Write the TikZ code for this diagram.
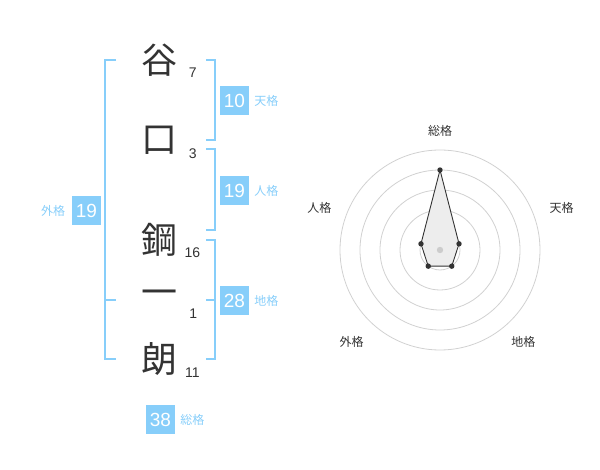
\documentclass[tikz,border=0pt]{standalone}
\usepackage{fontspec}
\setmainfont{Liberation Sans}
\newfontfamily\jp{Noto Sans CJK JP}
\usepackage{tikz}
\usetikzlibrary{positioning}
\definecolor{kaku}{RGB}{135,206,250}
\definecolor{ink}{RGB}{51,51,51}

\begin{document}
\begin{tikzpicture}[x=1pt,y=-1pt,node distance=5pt,
                    kanji node/.style={inner sep=0pt,text=ink,font=\jp\fontsize{36}{36}\selectfont},
                    stroke node/.style={inner sep=0pt,text=ink,font=\fontsize{14}{14}\selectfont},
                    score node/.style={fill=kaku,text=white,minimum size=29pt,inner sep=0pt,font=\fontsize{19}{19}\selectfont},
                    tag node/.style={inner sep=0pt,text=kaku,font=\jp\fontsize{12}{12}\selectfont},
                    axis node/.style={inner sep=0pt,text=ink,font=\jp\fontsize{12}{12}\selectfont},
                    bracket/.style={draw=kaku,line width=2pt},
                    ring/.style={draw=black!18,line width=0.8pt}]

  \useasboundingbox (0,0) rectangle (600,470);

  % name and strokes
  \node[kanji node] (1) at (159,60) {谷};
  \node[kanji node] (2) at (159,140) {口};
  \node[kanji node] (3) at (159,240) {鋼};
  \node[kanji node] (4) at (159,298) {一};
  \node[kanji node] (5) at (159,359) {朗};
  \node[stroke node] (n1) at (192.7,72.7) {7};
  \node[stroke node] (n2) at (192.7,153.3) {3};
  \node[stroke node] (n3) at (192.3,252.3) {16};
  \node[stroke node] (n4) at (193.3,313.3) {1};
  \node[stroke node] (n5) at (192.3,372.7) {11};

  % brackets
  \draw[bracket] (116,60) -- (105,60) -- (105,359) -- (116,359);
  \draw[bracket] (105,300) -- (116,300);
  \draw[bracket] (206,60) -- (214.5,60) -- (214.5,140) -- (206,140);
  \draw[bracket] (206,149.5) -- (214.5,149.5) -- (214.5,230) -- (206,230);
  \draw[bracket] (206,240) -- (214.5,240) -- (214.5,359) -- (206,359);
  \draw[bracket] (206,300) -- (214.5,300);

  % scores
  \node[score node] (ten) at (234.5,100.5) {10};
  \node[score node] (jin) at (234.5,190.5) {19};
  \node[score node] (chi) at (234.5,300.5) {28};
  \node[score node] (gai) at (86.5,210.5) {19};
  \node[score node] (sou) at (160.5,419.5) {38};
  \node[tag node] (ten label) [right=of ten] {天格};
  \node[tag node] (jin label) [right=of jin] {人格};
  \node[tag node] (chi label) [right=of chi] {地格};
  \node[tag node] (gai label) [left=6.5pt of gai] {外格};
  \node[tag node] (sou label) [right=of sou] {総格};

  % radar chart
  \coordinate (c) at (440,250);
  \foreach \r in {20,40,60,80,100}
    \draw[ring] (c) circle (\r pt);
  \coordinate (p1) at ([shift={(90:80pt)}]c);
  \coordinate (p2) at ([shift={(18:20pt)}]c);
  \coordinate (p3) at ([shift={(-54:20pt)}]c);
  \coordinate (p4) at ([shift={(-126:20pt)}]c);
  \coordinate (p5) at ([shift={(162:20pt)}]c);
  \draw[ink,fill=black!7,line width=0.9pt] (p1) -- (p2) -- (p3) -- (p4) -- (p5) -- cycle;
  \fill[black!20] (c) circle (3.2pt);
  \foreach \p in {p1,p2,p3,p4,p5}
    \fill[ink] (\p) circle (2.7pt);
  \node[axis node] (a1) at (440,130.7) {総格};
  \node[axis node] (a2) at (561.7,208.3) {天格};
  \node[axis node] (a3) at (523.3,341.7) {地格};
  \node[axis node] (a4) at (351.7,341.7) {外格};
  \node[axis node] (a5) at (319.3,208.3) {人格};
\end{tikzpicture}
\end{document}
